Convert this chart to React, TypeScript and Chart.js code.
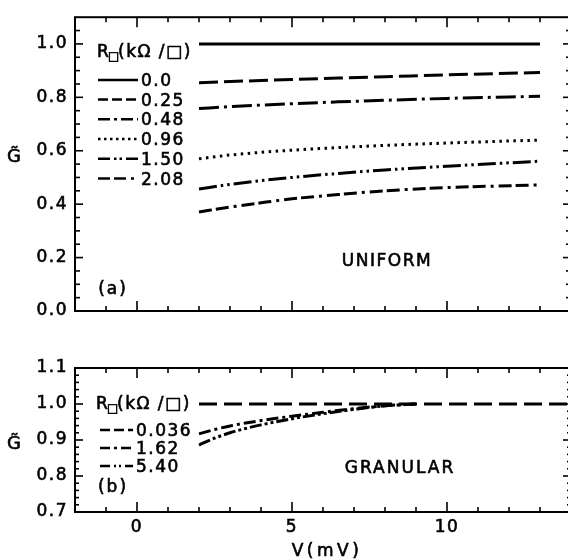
import React, { useEffect, useRef } from 'react';
import { Chart, registerables } from 'chart.js';

Chart.register(...registerables);

// ---------- data (panel a: uniform) ----------
const topV = [2, 3, 4, 5, 6.5, 8, 10, 13];
const topR000 = [1.0, 1.0, 1.0, 1.0, 1.0, 1.0, 1.0, 1.0];
const topR025 = [0.855, 0.859, 0.863, 0.867, 0.872, 0.877, 0.884, 0.893];
const topR048 = [0.758, 0.765, 0.771, 0.776, 0.783, 0.789, 0.796, 0.804];
const topR096 = [0.570, 0.584, 0.594, 0.602, 0.612, 0.620, 0.629, 0.640];
const topR150 = [0.457, 0.474, 0.488, 0.500, 0.515, 0.528, 0.542, 0.561];
const topR208 = [0.371, 0.389, 0.405, 0.420, 0.436, 0.450, 0.462, 0.472];
const topLabels = ['0.0', '0.25', '0.48', '0.96', '1.50', '2.08'];

// ---------- data (panel b: granular) ----------
const botFlatV = [2, 14];
const botR0036 = [1.0, 1.0];
const botV = [2, 2.5, 3, 3.5, 4, 5, 6, 7, 8, 9];
const botR162 = [0.917, 0.929, 0.939, 0.947, 0.954, 0.966, 0.977, 0.987, 0.995, 1.0];
const botR540 = [0.886, 0.905, 0.920, 0.932, 0.942, 0.959, 0.973, 0.985, 0.995, 1.0];
const botLabels = ['0.036', '1.62', '5.40'];

// ---------- ticks ----------
const xTickValues = [0, 5, 10];
const topYTicks = [0, 0.2, 0.4, 0.6, 0.8, 1.0];
const botYTicks = [0.7, 0.8, 0.9, 1.0, 1.1];

const FONT = 'DejaVu Sans';
const CANVAS_W = 572;

const zip = (xs: number[], ys: number[]) => xs.map((x, i) => ({ x, y: ys[i] }));

const topDashes = [[], [19, 6], [20, 5, 3, 5], [2.5, 4.5], [18, 4, 2.5, 4, 2.5, 4], [13, 4, 13, 5, 3, 5]];
const topLegendDashes = [[], [10, 4], [12, 4, 3, 4], [2.5, 3.5], [12, 4, 2.5, 3, 2.5, 4], [12, 4, 12, 5, 3, 5]];
const botDashes = [[18, 7], [12, 4, 3, 4], [12, 3, 3, 3, 3, 3]];
const botLegendDashes = [[10, 4], [10, 4, 3, 4], [10, 4, 2, 3, 2, 4]];

function seg(ctx: CanvasRenderingContext2D, x0: number, y0: number, x1: number, y1: number) {
  ctx.beginPath();
  ctx.moveTo(x0, y0);
  ctx.lineTo(x1, y1);
  ctx.stroke();
}

function drawFrame(chart: any, yStep: number, yMin: number, yMax: number, majorEvery: number, minorLen: number) {
  const { ctx, chartArea: a, scales } = chart;
  const xs = scales.x;
  const ys = scales.y;
  ctx.save();
  ctx.strokeStyle = '#000';
  ctx.setLineDash([]);
  ctx.lineWidth = 2;
  ctx.strokeRect(a.left, a.top, a.right - a.left, a.bottom - a.top);
  ctx.lineWidth = 1.6;
  for (let v = -1; v <= 13; v++) {
    const px = xs.getPixelForValue(v);
    const len = v % 5 === 0 ? 10 : 5;
    seg(ctx, px, a.bottom, px, a.bottom - len);
    seg(ctx, px, a.top, px, a.top + len);
  }
  const n = Math.round((yMax - yMin) / yStep);
  for (let i = 1; i < n; i++) {
    const v = yMin + i * yStep;
    const py = ys.getPixelForValue(v);
    const len = i % majorEvery === 0 ? 8 : minorLen;
    seg(ctx, a.left, py, a.left + len, py);
    seg(ctx, a.right, py, a.right - len, py);
  }
  ctx.restore();
}

function text(ctx: any, s: string, x: number, y: number, align: CanvasTextAlign = 'left', size = 17, spacing = '1.5px') {
  ctx.save();
  ctx.font = `${size}px "${FONT}"`;
  ctx.fillStyle = '#000';
  ctx.strokeStyle = '#000';
  ctx.lineWidth = 0.6;
  ctx.textAlign = align;
  ctx.textBaseline = 'alphabetic';
  ctx.letterSpacing = spacing;
  ctx.fillText(s, x, y);
  ctx.strokeText(s, x, y);
  ctx.restore();
}

function legendTitle(ctx: any, x: number, baseline: number) {
  text(ctx, 'R', x, baseline);
  text(ctx, '\u25A1', x + 11, baseline + 3, 'left', 12, '0px');
  text(ctx, '(k\u03A9 /\u25A1)', x + 21, baseline);
}

function legendRows(ctx: any, labels: string[], dashes: number[][], x0: number, x1: number, xt: number, ys: number[]) {
  labels.forEach((lab, i) => {
    ctx.save();
    ctx.strokeStyle = '#000';
    ctx.lineWidth = 2.6;
    ctx.setLineDash(dashes[i]);
    seg(ctx, x0, ys[i], x1, ys[i]);
    ctx.restore();
    text(ctx, lab, xt, ys[i] + 6);
  });
}

const commonLine = {
  borderColor: '#000',
  borderWidth: 3,
  pointRadius: 0,
  fill: false,
  cubicInterpolationMode: 'monotone' as const,
};

const tickFont = { family: FONT, size: 17 };
const gridOff = { display: false, drawTicks: false, tickLength: 0 };

export default function App() {
  const topRef = useRef<HTMLCanvasElement>(null);
  const botRef = useRef<HTMLCanvasElement>(null);

  useEffect(() => {
    const spacingPlugin = {
      id: 'spacing',
      beforeDraw(chart: any) {
        chart.ctx.letterSpacing = '1.5px';
      },
    };

    const topSeries = [topR000, topR025, topR048, topR096, topR150, topR208];
    const topChart = new Chart(topRef.current!, {
      type: 'line',
      data: {
        datasets: topSeries.map((ys, i) => ({
          ...commonLine,
          label: topLabels[i],
          data: zip(topV, ys),
          borderDash: topDashes[i],
        })),
      },
      options: {
        animation: false,
        responsive: false,
        devicePixelRatio: 1,
        layout: { padding: { top: 9, right: 1, left: 0, bottom: 0 } },
        plugins: { legend: { display: false }, tooltip: { enabled: false } },
        scales: {
          x: {
            type: 'linear',
            min: -2,
            max: 14,
            grid: gridOff,
            border: { display: false },
            ticks: { display: false },
            afterFit: (s: any) => { s.height = 19; },
          },
          y: {
            type: 'linear',
            min: 0,
            max: 1.1,
            grid: gridOff,
            border: { display: false },
            afterBuildTicks: (s: any) => { s.ticks = topYTicks.map((v) => ({ value: v })); },
            afterFit: (s: any) => { s.width = 75; },
            ticks: {
              color: '#000',
              padding: 7,
              font: tickFont,
              textStrokeColor: '#000',
              textStrokeWidth: 0.6,
              callback: (v: any) => Number(v).toFixed(1),
            },
          },
        },
      },
      plugins: [
        spacingPlugin,
        {
          id: 'decorTop',
          afterDraw(chart: any) {
            const ctx = chart.ctx;
            drawFrame(chart, 0.05, 0, 1.1, 4, 5);
            legendTitle(ctx, 97, 57);
            legendRows(ctx, topLabels, topLegendDashes, 98, 138, 141, [80, 99.5, 119.2, 139, 158.8, 178.5]);
            text(ctx, 'G\u0303', 14, 162, 'center', 18, '0px');
            text(ctx, 'UNIFORM', 387, 266, 'center');
            text(ctx, '(a)', 113, 294, 'center', 17, '2px');
          },
        },
      ],
    });

    const botSeries = [
      { v: botFlatV, y: botR0036 },
      { v: botV, y: botR162 },
      { v: botV, y: botR540 },
    ];
    const OFF = 340;
    const botChart = new Chart(botRef.current!, {
      type: 'line',
      data: {
        datasets: botSeries.map((s, i) => ({
          ...commonLine,
          label: botLabels[i],
          data: zip(s.v, s.y),
          borderDash: botDashes[i],
        })),
      },
      options: {
        animation: false,
        responsive: false,
        devicePixelRatio: 1,
        layout: { padding: { top: 28, right: 1, left: 0, bottom: 0 } },
        plugins: { legend: { display: false }, tooltip: { enabled: false } },
        scales: {
          x: {
            type: 'linear',
            min: -2,
            max: 14,
            grid: gridOff,
            border: { display: false },
            afterBuildTicks: (s: any) => { s.ticks = xTickValues.map((v) => ({ value: v })); },
            afterFit: (s: any) => { s.height = 47; },
            ticks: {
              color: '#000',
              padding: 5,
              maxRotation: 0,
              font: tickFont,
              textStrokeColor: '#000',
              textStrokeWidth: 0.6,
              callback: (v: any) => String(v),
            },
          },
          y: {
            type: 'linear',
            min: 0.7,
            max: 1.1,
            grid: gridOff,
            border: { display: false },
            afterBuildTicks: (s: any) => { s.ticks = botYTicks.map((v) => ({ value: v })); },
            afterFit: (s: any) => { s.width = 75; },
            ticks: {
              color: '#000',
              padding: 7,
              font: tickFont,
              textStrokeColor: '#000',
              textStrokeWidth: 0.6,
              callback: (v: any) => Number(v).toFixed(1),
            },
          },
        },
      },
      plugins: [
        spacingPlugin,
        {
          id: 'decorBot',
          afterDraw(chart: any) {
            const ctx = chart.ctx;
            drawFrame(chart, 0.02, 0.7, 1.1, 5, 4);
            legendTitle(ctx, 96, 409 - OFF);
            legendRows(ctx, botLabels, botLegendDashes, 100, 133, 136, [430 - OFF, 448 - OFF, 466 - OFF]);
            text(ctx, '(b)', 113, 492 - OFF, 'center', 17, '2px');
            text(ctx, 'G\u0303', 14, 449 - OFF, 'center', 18, '0px');
            text(ctx, 'GRANULAR', 400, 473 - OFF, 'center', 17, '2px');
            text(ctx, 'V(mV)', 327, 556 - OFF, 'center', 17, '3.5px');
          },
        },
      ],
    });

    return () => {
      topChart.destroy();
      botChart.destroy();
    };
  }, []);

  return (
    <div
      style={{
        position: 'absolute',
        left: 0,
        top: 0,
        width: 568,
        height: 559,
        overflow: 'hidden',
        background: '#fff',
      }}
    >
      <canvas
        ref={topRef}
        width={CANVAS_W}
        height={330}
        style={{ position: 'absolute', left: 0, top: 0, width: CANVAS_W, height: 330 }}
      />
      <canvas
        ref={botRef}
        width={CANVAS_W}
        height={219}
        style={{ position: 'absolute', left: 0, top: 340, width: CANVAS_W, height: 219 }}
      />
    </div>
  );
}
